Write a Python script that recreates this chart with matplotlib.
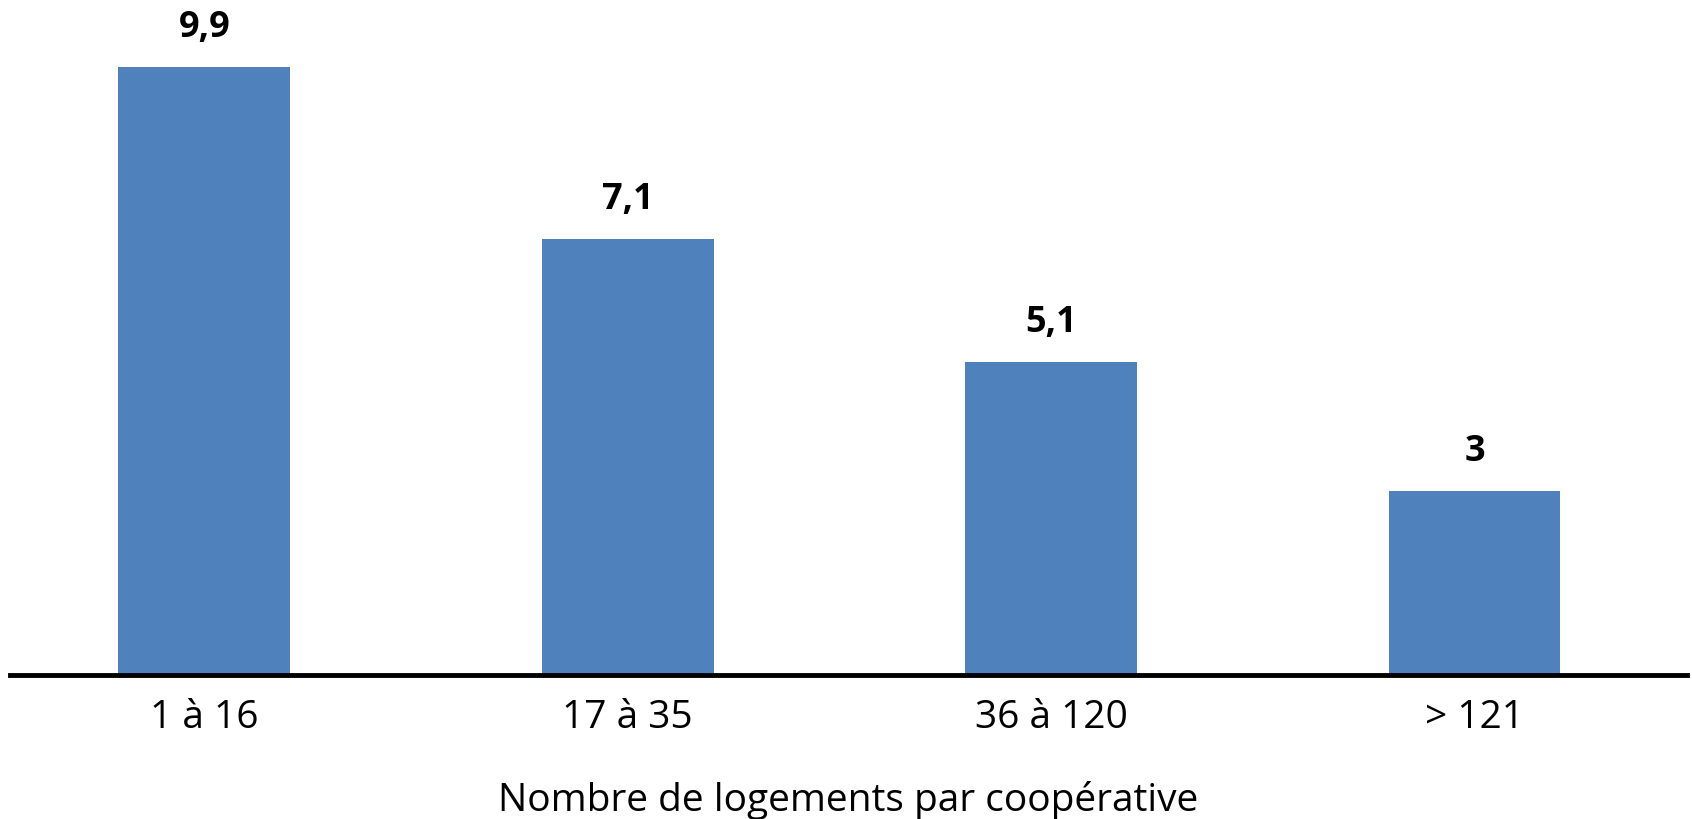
import matplotlib
matplotlib.use("Agg")
import matplotlib.pyplot as plt

# --- Data ---
categories = ["1 à 16", "17 à 35", "36 à 120", "> 121"]
values = [9.9, 7.1, 5.1, 3]
value_labels = ["9,9", "7,1", "5,1", "3"]
x_title = "Nombre de logements par coopérative"

bar_color = "#4f81bd"

plt.rcParams["font.family"] = ["Open Sans", "DejaVu Sans"]

fig = plt.figure(figsize=(16.92, 8.19), dpi=100)
# axes placed so the baseline sits where the reference has it
ax = fig.add_axes([10 / 1692, (819 - 675) / 819, 1677 / 1692, 645 / 819])

x = range(len(categories))
bars = ax.bar(x, values, width=0.406, color=bar_color, zorder=2)

for rect, lab in zip(bars, value_labels):
    ax.annotate(lab, (rect.get_x() + rect.get_width() / 2, rect.get_height()),
                xytext=(0, 15), textcoords="offset points",
                ha="center", va="bottom", fontsize=26, fontweight="bold")

ax.set_xlim(-0.459, 3.502)
ax.set_ylim(0, 645 / 61.4)

ax.set_xticks(list(x))
ax.set_xticklabels(categories, fontsize=28)
ax.tick_params(axis="x", length=0, pad=17)
ax.set_yticks([])

for side in ["top", "right", "left"]:
    ax.spines[side].set_visible(False)
ax.spines["bottom"].set_linewidth(3.5)
ax.spines["bottom"].set_color("black")

ax.set_xlabel(x_title, fontsize=28, labelpad=32)

fig.savefig("out.png", dpi=100)
